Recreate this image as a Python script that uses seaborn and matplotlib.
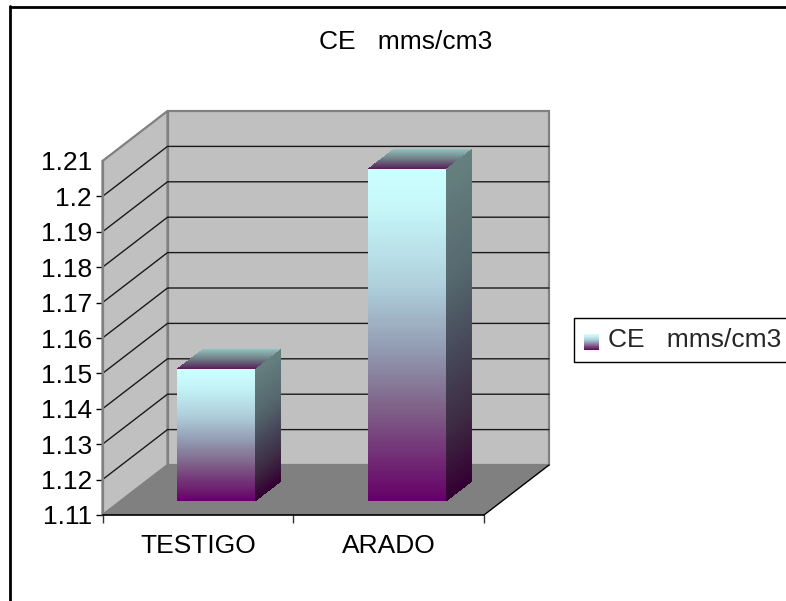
import numpy as np
import matplotlib
matplotlib.use("Agg")
import matplotlib.pyplot as plt
import seaborn as sns
from matplotlib.colors import LinearSegmentedColormap
from matplotlib.lines import Line2D
from matplotlib.patches import Patch, Polygon

# data
categories = ["TESTIGO", "ARADO"]
values = [1.1473, 1.2038]
y_ticks = [1.11, 1.12, 1.13, 1.14, 1.15, 1.16, 1.17, 1.18, 1.19, 1.20, 1.21]
y_labels = ["1.11", "1.12", "1.13", "1.14", "1.15", "1.16", "1.17", "1.18", "1.19", "1.2", "1.21"]
series_name = "CE   mms/cm3"

W, H = 786, 601
base = y_ticks[0]
top = y_ticks[-1]

sns.set_theme(style="white")
plt.rcParams["font.family"] = ["Liberation Sans", "DejaVu Sans"]
FS = 19

fig = plt.figure(figsize=(W / 100, H / 100), dpi=100, facecolor="white")
# front plane of the fake 3d box
left, right, y_bot, y_top = 102.5, 484, 515, 161
ax = fig.add_axes([left / W, (H - y_bot) / H, (right - left) / W, (y_bot - y_top) / H])
ax.patch.set_alpha(0)

# depth projection in data units
x_unit = (right - left) / 2
y_unit = (y_bot - y_top) / (top - base)
DX, DY = 65 / x_unit, 50 / y_unit


def proj(x, y, d):
    return x + d * DX, y + d * DY


# bars come from seaborn, the 3d faces are built on their geometry
positions = list(range(len(categories)))
sns.barplot(x=positions, y=[v - base for v in values], bottom=base, width=0.408,
            native_scale=True, color="white", ax=ax, zorder=0)
ax.set_xlim(-0.5, 1.5)
ax.set_ylim(base, top)

# walls and floor
xl, xr = -0.5, 1.5
wall, floor_c, edge = "#C0C0C0", "#808080", "#808080"
back = [proj(xl, base, 1), proj(xr, base, 1), proj(xr, top, 1), proj(xl, top, 1)]
side = [proj(xl, base, 0), proj(xl, base, 1), proj(xl, top, 1), proj(xl, top, 0)]
floor = [proj(xl, base, 0), proj(xr, base, 0), proj(xr, base, 1), proj(xl, base, 1)]
ax.add_patch(Polygon(back, fc=wall, ec=edge, lw=1.6, clip_on=False, zorder=1))
ax.add_patch(Polygon(side, fc=wall, ec=edge, lw=1.6, clip_on=False, zorder=1))
ax.add_patch(Polygon(floor, fc=floor_c, ec="none", clip_on=False, zorder=1.2))

for t in y_ticks[1:-1]:
    a, b, c = proj(xl, t, 0), proj(xl, t, 1), proj(xr, t, 1)
    ax.plot([a[0], b[0], c[0]], [a[1], b[1], c[1]], color="#1a1a1a", lw=1.0,
            clip_on=False, zorder=1.5)
a, b = proj(xr, base, 0), proj(xr, base, 1)
ax.plot([a[0], b[0]], [a[1], b[1]], color="black", lw=1.0, clip_on=False, zorder=1.5)

# gradients
front_cm = LinearSegmentedColormap.from_list("front", [
    (0.0, "#CCFFFF"), (0.12, "#C6F6F8"), (0.35, "#AFD0DC"), (0.55, "#9199B0"),
    (0.72, "#7F6288"), (1.0, "#660066")])
side_cm = LinearSegmentedColormap.from_list("side", [
    (0.0, "#668080"), (0.35, "#55686E"), (0.6, "#454558"), (0.8, "#3D2A42"), (1.0, "#330033")])
top_cm = LinearSegmentedColormap.from_list("top", [
    (0.0, "#94C2C2"), (0.5, "#6F7F85"), (1.0, "#55205A")])

d0, d1 = 0.28, 0.68
n = 128
for bar in ax.patches[:len(categories)]:
    x0, w = bar.get_x(), bar.get_width()
    y0, h = bar.get_y(), bar.get_height()
    bar.set_visible(False)
    x1 = x0 + w
    ys = np.linspace(y0 + h, y0, n + 1)
    shade = ((np.arange(n) + 0.5) / n).reshape(-1, 1)
    # front
    fx, fy = proj(np.array([[x0, x1]] * (n + 1)), np.column_stack([ys, ys]), d0)
    ax.pcolormesh(fx, fy, shade, cmap=front_cm, vmin=0, vmax=1, clip_on=False, zorder=3)
    # right side
    dd = np.array([d0, d1])
    sx = x1 + dd * DX * np.ones((n + 1, 2))
    sy = ys.reshape(-1, 1) + dd * DY
    ax.pcolormesh(sx, sy, shade, cmap=side_cm, vmin=0, vmax=1, clip_on=False, zorder=3)
    # top
    ds = np.linspace(d1, d0, 41).reshape(-1, 1)
    tx = np.column_stack([x0 + ds[:, 0] * DX, x1 + ds[:, 0] * DX])
    ty = np.column_stack([y0 + h + ds[:, 0] * DY] * 2)
    ax.pcolormesh(tx, ty, ((np.arange(40) + 0.5) / 40).reshape(-1, 1), cmap=top_cm,
                  vmin=0, vmax=1, clip_on=False, zorder=3)

# axes and ticks
for s in ["top", "right"]:
    ax.spines[s].set_visible(False)
ax.spines["left"].set_color(edge)
ax.spines["left"].set_linewidth(1.6)
ax.spines["bottom"].set_color("black")
ax.spines["bottom"].set_linewidth(1.2)
ax.spines["left"].set_zorder(2)
ax.spines["bottom"].set_zorder(4)

ax.set_xlim(-0.5, 1.5)
ax.set_ylim(base, top)
ax.set_yticks(y_ticks, y_labels)
ax.set_xticks(positions, categories)
ax.set_xticks([-0.5, 0.5, 1.5], minor=True)
ax.tick_params(axis="y", left=True, length=5, width=1, color="black", pad=2.5,
               labelsize=FS, labelcolor="black")
ax.tick_params(axis="x", which="major", bottom=False, length=0, pad=13.5,
               labelsize=FS, labelcolor="black")
ax.tick_params(axis="x", which="minor", bottom=True, length=6, width=1, color="#333333")
ax.yaxis.get_major_ticks()[-1].tick1line.set_visible(False)
ax.set_xlabel("")
ax.set_ylabel("")

fig.text(405.5 / W, 1 - 42 / H, series_name, ha="center", va="center", fontsize=FS, color="black")

# chart area border, only top and left fall inside the picture
fig.add_artist(Line2D([9.5 / W, 9.5 / W], [0, 1 - 6 / H], color="black", lw=2))
fig.add_artist(Line2D([9.5 / W, 1], [1 - 6.5 / H, 1 - 6.5 / H], color="black", lw=2))

# legend, gradient key sits on top of an empty handle
leg = fig.legend(handles=[Patch(fc="none", ec="none", label=series_name)],
                 loc="upper left", bbox_to_anchor=(573.5 / W, 1 - 318 / H),
                 borderaxespad=0, fontsize=FS, frameon=True, fancybox=False,
                 edgecolor="black", framealpha=1, borderpad=0.37,
                 handlelength=0.5, handletextpad=0.44)
leg.get_frame().set_linewidth(1.0)

key = fig.add_axes([584 / W, 1 - 350 / H, 15 / W, 16 / H], zorder=10)
key.imshow(np.linspace(0, 1, 64).reshape(-1, 1), cmap=front_cm, aspect="auto", vmin=0, vmax=1)
key.axis("off")

fig.savefig("out.png", dpi=100)
